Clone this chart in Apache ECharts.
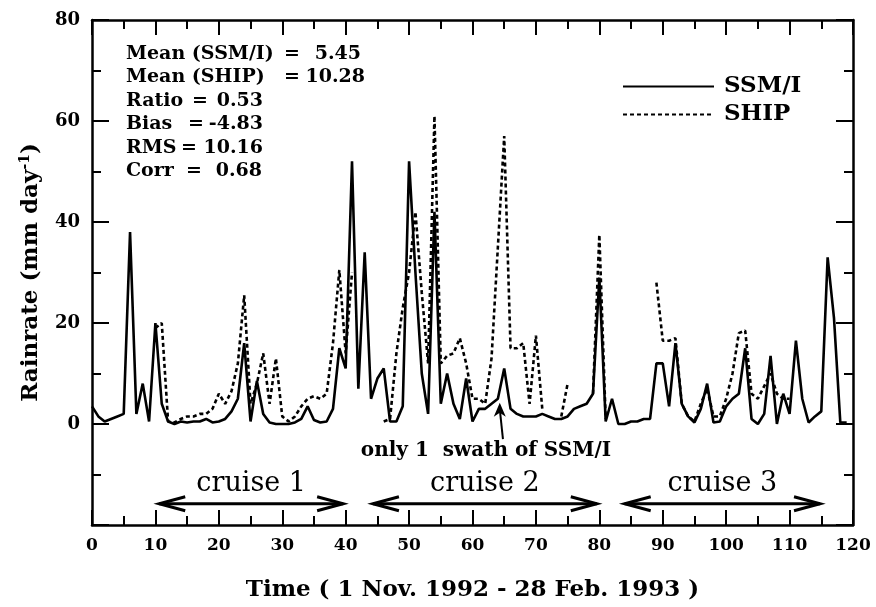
<!DOCTYPE html>
<html>
<head>
<meta charset="utf-8">
<script src="https://cdn.jsdelivr.net/npm/echarts@6/dist/echarts.min.js"></script>
<style>
  html, body { margin: 0; padding: 0; background: #fff; }
  #chart { width: 876px; height: 607px; }
</style>
</head>
<body>
<div id="chart"></div>
<script>
// Daily rain rate, day 0 = 1 Nov 1992 (mm/day)
const ssmi = [
  3.5, 1.5, 0.5, 1, 1.5, 2, 38, 2, 8, 0.5,
  20, 4, 0.5, 0, 0.5, 0.3, 0.5, 0.5, 1, 0.3,
  0.5, 1, 2.5, 5, 16, 0.5, 8.5, 2, 0.3, 0,
  0, 0, 0.3, 1, 3.5, 0.8, 0.3, 0.5, 3, 15,
  11, 52, 7, 34, 5, 9, 11, 0.5, 0.5, 3.5,
  52, 30, 10, 2, 42, 4, 10, 4, 1, 9,
  0.5, 3, 3, 4, 5, 11, 3, 2, 1.5, 1.5,
  1.5, 2, 1.5, 1, 1, 1.5, 3, 3.5, 4, 6,
  29, 0.5, 5, 0, 0, 0.5, 0.5, 1, 1, 12,
  12, 3.5, 16, 4, 1.5, 0.3, 3, 8, 0.3, 0.5,
  3.5, 5, 6, 15, 1, 0, 2, 13.5, 0, 6,
  2, 16.5, 5, 0.3, 1.5, 2.5, 33, 21, 0.3, 0.3
];

// Ship gauge rain rate for the three cruises (null = no ship data)
const ship = [
  null, null, null, null, null, null, null, null, null, null,
  19, 20, 0.5, 0.3, 1, 1.5, 1.5, 2, 2, 3,
  6, 4, 6.5, 12, 25.5, 4, 8, 14, 4, 13,
  1.5, 0.5, 1.5, 3.5, 5, 5.5, 5, 6, 16, 30.5,
  14, 30, null, null, null, null, 0.5, 1, 14, 23,
  30, 42, 26, 12, 61, 12, 13.5, 14, 17, 12,
  5, 5, 4, 13, 35, 57, 15, 15, 16, 4,
  17.5, 3, null, null, 1.5, 8, null, null, null, 6,
  37.5, 1, null, null, null, null, null, null, null, 28,
  16.5, 16.5, 17, 4, 1.5, 0.5, 4, 7, 1.5, 1.5,
  5, 10, 18, 18.5, 6, 5, 7.5, 10, 6, 5,
  5, null, null, null, null, null, null, null, null, null
];

const seriesNames = ['SSM/I', 'SHIP'];

// Summary statistics
const statLabels = ['Mean (SSM/I)', 'Mean (SHIP)', 'Ratio', 'Bias', 'RMS', 'Corr'];
const statValues = ['5.45', '10.28', '0.53', '-4.83', '10.16', '0.68'];

// Cruise periods (day numbers)
const cruiseLabels = ['cruise 1', 'cruise 2', 'cruise 3'];
const cruiseStart = [10.6, 44.3, 84.0];
const cruiseEnd = [39.6, 79.6, 114.8];

const xTitle = 'Time ( 1 Nov. 1992 - 28 Feb. 1993 )';
const yTitle = 'Rainrate (mm day{sup|-1})';
const noteText = 'only 1  swath of SSM/I';
const noteTip = [64.3, 4.2];
const noteTail = [64.8, -3];

const FONT = 'DejaVu Serif';

const chart = echarts.init(document.getElementById('chart'), null, { renderer: 'canvas' });

const tickStyle = { color: '#000', width: 2 };
const axisLineStyle = { color: '#000', width: 2.5 };

function xAxisCfg(pos, showLabel) {
  return {
    type: 'value', position: pos, min: 0, max: 120, interval: 10,
    axisLine: { show: true, onZero: false, lineStyle: axisLineStyle },
    axisTick: { show: true, inside: true, length: 15, lineStyle: tickStyle },
    minorTick: { show: true, splitNumber: 2, length: 9, lineStyle: tickStyle },
    splitLine: { show: false },
    axisLabel: {
      show: showLabel, color: '#000', fontFamily: FONT, fontWeight: 'bold',
      fontSize: 17, margin: 12
    }
  };
}
function yAxisCfg(pos, showLabel) {
  return {
    type: 'value', position: pos, min: -20, max: 80, interval: 20,
    axisLine: { show: true, onZero: false, lineStyle: axisLineStyle },
    axisTick: { show: true, inside: true, length: 17, lineStyle: tickStyle },
    minorTick: { show: true, splitNumber: 2, length: 9, lineStyle: tickStyle },
    splitLine: { show: false },
    axisLabel: {
      show: showLabel, color: '#000', fontFamily: FONT, fontWeight: 'bold',
      fontSize: 18, margin: 12,
      formatter: v => (v < 0 ? '' : String(v))
    }
  };
}

const xBottom = xAxisCfg('bottom', true);
xBottom.name = xTitle;
xBottom.nameLocation = 'middle';
xBottom.nameGap = 54;
xBottom.nameTextStyle = { color: '#000', fontFamily: FONT, fontWeight: 'bold', fontSize: 23 };

const yLeft = yAxisCfg('left', true);
yLeft.name = yTitle;
yLeft.nameLocation = 'middle';
yLeft.nameGap = 48;
yLeft.nameTextStyle = {
  color: '#000', fontFamily: FONT, fontWeight: 'bold', fontSize: 23,
  rich: { sup: { fontFamily: FONT, fontWeight: 'bold', fontSize: 14, verticalAlign: 'top', padding: [0, 0, 12, 0] } }
};

const option = {
  animation: false,
  backgroundColor: '#fff',
  grid: { left: 92, right: 23, top: 20, bottom: 82, containLabel: false },
  xAxis: [xBottom, xAxisCfg('top', false)],
  yAxis: [yLeft, yAxisCfg('right', false)],
  legend: {
    data: seriesNames,
    orient: 'vertical',
    left: 617, top: 70,
    itemWidth: 91, itemHeight: 24, itemGap: 5,
    itemStyle: { opacity: 0 },
    textStyle: { color: '#000', fontFamily: FONT, fontWeight: 'bold', fontSize: 23, padding: [0, 0, 0, 5] }
  },
  series: [
    {
      name: seriesNames[0], type: 'line', symbol: 'none',
      data: ssmi.map((v, i) => [i, v]),
      lineStyle: { color: '#000', width: 2.6 },
      itemStyle: { color: '#000' },
      z: 3
    },
    {
      name: seriesNames[1], type: 'line', symbol: 'none', connectNulls: false,
      data: ship.map((v, i) => [i, v === null ? '-' : v]),
      lineStyle: { color: '#000', width: 2.6, type: [4, 3] },
      itemStyle: { color: '#000' },
      z: 2
    }
  ]
};

chart.setOption(option);

// Overlay: statistics, cruise arrows and the swath note, placed through the axes
function px(pt) { return chart.convertToPixel({ gridIndex: 0 }, pt); }

const graphics = [];
const statFont = 'bold 19px "DejaVu Serif"';

// statistics block: label, "=" and right-aligned value per row
const statX = 126, statTop = 54, statStep = 23.4;
const eqCenter = [292, 292, 200, 196, 189, 194];
const valRight = [361, 365, 263, 263, 263, 262];
statLabels.forEach((lab, i) => {
  const y = statTop + i * statStep;
  graphics.push({ type: 'text', x: statX, y: y, style: { text: lab, font: statFont, fill: '#000', align: 'left', verticalAlign: 'middle' } });
  graphics.push({ type: 'text', x: eqCenter[i], y: y, style: { text: '=', font: statFont, fill: '#000', align: 'center', verticalAlign: 'middle' } });
  graphics.push({ type: 'text', x: valRight[i], y: y, style: { text: statValues[i], font: statFont, fill: '#000', align: 'right', verticalAlign: 'middle' } });
});

// cruise double arrows
const arrowV = -15.8;
cruiseLabels.forEach((lab, i) => {
  const a = px([cruiseStart[i], arrowV]);
  const b = px([cruiseEnd[i], arrowV]);
  const hl = 26, hw = 7;
  graphics.push({ type: 'line', shape: { x1: a[0], y1: a[1], x2: b[0], y2: b[1] }, style: { stroke: '#000', lineWidth: 3 } });
  graphics.push({ type: 'polyline', shape: { points: [[a[0] + hl, a[1] - hw], [a[0], a[1]], [a[0] + hl, a[1] + hw]] }, style: { stroke: '#000', lineWidth: 3, fill: null } });
  graphics.push({ type: 'polyline', shape: { points: [[b[0] - hl, b[1] - hw], [b[0], b[1]], [b[0] - hl, b[1] + hw]] }, style: { stroke: '#000', lineWidth: 3, fill: null } });
  graphics.push({
    type: 'text', x: (a[0] + b[0]) / 2, y: a[1] - 20,
    style: { text: lab, font: '27px "DejaVu Serif"', fill: '#000', align: 'center', verticalAlign: 'middle' }
  });
});

// note with arrow to the SSM/I curve
const tip = px(noteTip), tail = px(noteTail);
graphics.push({ type: 'line', shape: { x1: tail[0], y1: tail[1], x2: tip[0], y2: tip[1] + 6 }, style: { stroke: '#000', lineWidth: 2 } });
graphics.push({ type: 'polygon', shape: { points: [[tip[0], tip[1]], [tip[0] - 6, tip[1] + 14], [tip[0], tip[1] + 10], [tip[0] + 6, tip[1] + 14]] }, style: { fill: '#000' } });
graphics.push({
  type: 'text', x: tail[0] - 17, y: tail[1] + 12,
  style: { text: noteText, font: 'bold 20px "DejaVu Serif"', fill: '#000', align: 'center', verticalAlign: 'middle' }
});

chart.setOption({ graphic: graphics });
</script>
</body>
</html>
